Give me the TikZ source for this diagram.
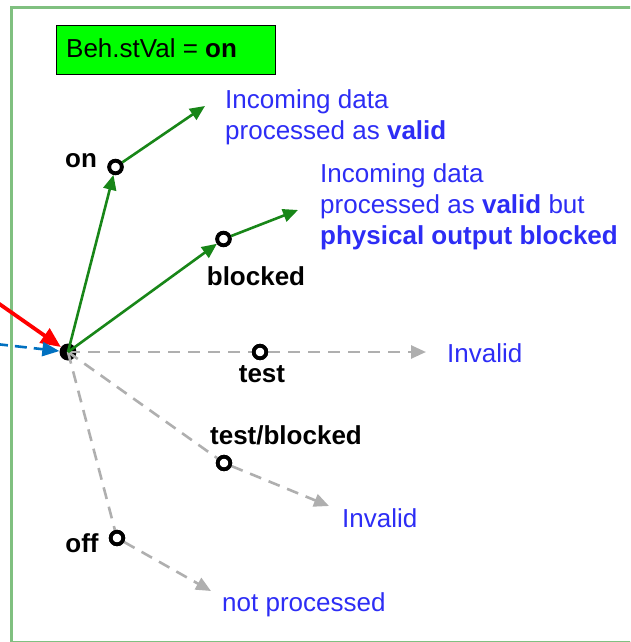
\documentclass[tikz,border=0pt]{standalone}
\usepackage{fontspec}
\setmainfont{Liberation Sans}
\usetikzlibrary{arrows.meta}
\definecolor{framegreen}{RGB}{128,192,128}
\definecolor{boxgreen}{RGB}{0,255,0}
\definecolor{arrgreen}{RGB}{24,134,24}
\definecolor{txtblue}{RGB}{45,45,245}
\definecolor{dashgray}{RGB}{175,175,175}
\definecolor{arrblue}{RGB}{0,112,192}
\tikzset{
  lbl/.style={font=\fontsize{26}{31}\selectfont\bfseries, text=black, inner sep=0pt},
  bluetxt/.style={font=\fontsize{26}{31}\selectfont, text=txtblue, inner sep=0pt, align=left, anchor=base west},
  ring/.style={circle, draw=black, line width=3.8pt, fill=white, minimum size=12.5pt, inner sep=0pt},
  validarr/.style={draw=arrgreen, line width=2.6pt, -{Triangle[length=15pt,width=13pt]}},
  invalidln/.style={draw=dashgray, line width=2.6pt, dash pattern=on 12pt off 8pt},
  invalidarr/.style={invalidln, -{Triangle[length=15pt,width=13pt,fill=dashgray]}},
}
\begin{document}
\begin{tikzpicture}[x=1pt,y=-1pt]
\useasboundingbox (0,0) rectangle (630,642);
\begin{scope}
\clip (0,0) rectangle (630,642);
\draw[framegreen, line width=3pt] (11.5,7.5) rectangle (680,642.5);
\end{scope}
% title box
\node[draw=black, line width=0.8pt, fill=boxgreen, minimum width=219pt, minimum height=49pt, inner sep=0pt, anchor=north west] (title) at (56,25) {};
\node[font=\fontsize{26}{31}\selectfont, anchor=base west, inner sep=0pt] (titletext) at (66,57) {Beh.stVal = \textbf{on}};
% hub
\node[circle, fill=black, minimum size=17pt, inner sep=0pt] (hub) at (68,352) {};
% state nodes
\coordinate (onpos) at (115.5,167);
\coordinate (blpos) at (223.5,239);
\coordinate (tepos) at (260,352);
\coordinate (tbpos) at (224,463);
\coordinate (ofpos) at (117,538);
\node[ring] (on) at (onpos) {};
\node[ring] (blocked) at (blpos) {};
\node[ring] (test) at (tepos) {};
\node[ring] (testblocked) at (tbpos) {};
\node[ring] (off) at (ofpos) {};
% arrow end points
\coordinate (onend) at (205,106);
\coordinate (blend) at (298,210);
\coordinate (teend) at (426,352);
\coordinate (tbend) at (329,506);
\coordinate (ofend) at (211,591);
\coordinate (redstart) at (-12,296);
\coordinate (bluestart) at (-4,344);
% connectors
\draw[invalidln] (hub.center) -- (test);
\draw[invalidarr] (test) -- (teend);
\draw[invalidln] (hub.center) -- (testblocked);
\draw[invalidarr] (testblocked) -- (tbend);
\draw[invalidln] (hub.center) -- (off);
\draw[invalidarr] (off) -- (ofend);
\draw[validarr] (hub.center) -- (on);
\draw[validarr] (on) -- (onend);
\draw[validarr] (hub.center) -- (blocked);
\draw[validarr] (blocked) -- (blend);
% redraw rings on top
\node[ring] at (onpos) {};
\node[ring] at (blpos) {};
\node[ring] at (tepos) {};
\node[ring] at (tbpos) {};
\node[ring] at (ofpos) {};
% incoming arrows
\draw[red, line width=3.8pt, -{Triangle[length=20pt,width=17pt]}] (redstart) -- (hub);
\draw[arrblue, line width=2.6pt, dash pattern=on 12pt off 7pt, -{Triangle[length=17pt,width=14pt]}] (bluestart) -- (hub);
% labels
\node[lbl] (onlbl) at (81,161) {on};
\node[lbl] (bllbl) at (256,276) {blocked};
\node[lbl] (telbl) at (262,374) {test};
\node[lbl] (tblbl) at (286,435) {test/blocked};
\node[lbl] (oflbl) at (82,543) {off};
% blue texts (base anchor = last line baseline)
\node[bluetxt] (txton) at (225,139) {Incoming data\\processed as \textbf{valid}};
\node[bluetxt] (txtbl) at (320,244) {Incoming data\\processed as \textbf{valid} but\\\textbf{physical output blocked}};
\node[bluetxt] (txtte) at (447,362) {Invalid};
\node[bluetxt] (txttb) at (342,527) {Invalid};
\node[bluetxt] (txtof) at (222,611) {not processed};
\end{tikzpicture}
\end{document}
